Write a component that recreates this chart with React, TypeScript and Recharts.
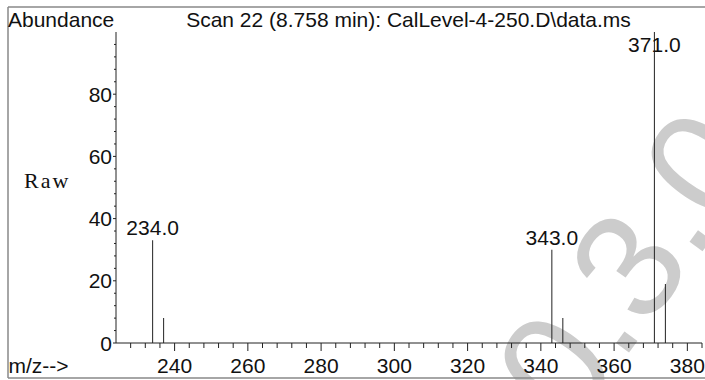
import React from 'react';
import { Bar, BarChart, LabelList, XAxis, YAxis } from 'recharts';

const mz = [234, 237, 343, 346, 371, 374];
const abundance = [33, 8, 30, 8, 100, 19];
const peakLabels = ['234.0', '', '343.0', '', '371.0', ''];
const xMajorTicks = [240, 260, 280, 300, 320, 340, 360, 380];
const yMajorTicks = [0, 20, 40, 60, 80];

const data = mz.map((m, i) => ({ mz: m, abundance: abundance[i], label: peakLabels[i] }));

// minor ticks every 4 units on both axes
const xTicks: number[] = [];
for (let v = 228; v <= 384; v += 4) xTicks.push(v);
const yTicks: number[] = [];
for (let v = 0; v <= 96; v += 4) yTicks.push(v);

const FONT = '"Liberation Sans", Arial, Helvetica, sans-serif';
const INK = '#111';
const FS = 21;

const XTick = (props: any) => {
    const { x, y, payload } = props;
    const major = xMajorTicks.includes(payload.value);
    return (
        <g>
            <line x1={x} x2={x} y1={y} y2={y + (major ? 8 : 5)} stroke="#222" />
            {major && (
                <text x={x} y={y + 30} textAnchor="middle" fontFamily={FONT} fontSize={FS} fill={INK}>
                    {payload.value}
                </text>
            )}
        </g>
    );
};

const YTick = (props: any) => {
    const { x, y, payload } = props;
    const major = yMajorTicks.includes(payload.value);
    return (
        <g>
            <line x1={x - (major ? 3 : 2)} x2={x} y1={y} y2={y} stroke="#222" />
            {major && (
                <text x={x - 4} y={y + 7.5} textAnchor="end" fontFamily={FONT} fontSize={FS} fill={INK}>
                    {payload.value}
                </text>
            )}
        </g>
    );
};

const PeakLabel = (props: any) => {
    const { x, y, width, value } = props;
    if (!value) return null;
    const ty = Math.max(y - 5, 52);
    return (
        <text x={x + width / 2} y={ty} textAnchor="middle" fontFamily={FONT} fontSize={FS} fill={INK}>
            {value}
        </text>
    );
};

const App: React.FC = () => {
    return (
        <div style={{ position: 'absolute', left: 0, top: 0, width: 705, height: 380, background: '#fff' }}>
            <svg width={705} height={380} style={{ position: 'absolute', left: 0, top: 0 }}>
                {/* watermark */}
                <text
                    x={670}
                    y={296}
                    transform="rotate(-54 670 296)"
                    textAnchor="middle"
                    fontFamily={FONT}
                    fontSize={150}
                    fill="#cccccc"
                >
                    0.3.0
                </text>
                <line x1={8} y1={7} x2={705} y2={7} stroke="#888" strokeWidth={1.5} />
                <line x1={8} y1={7} x2={8} y2={378} stroke="#888" strokeWidth={1.5} />
                <line x1={8} y1={378} x2={705} y2={378} stroke="#888" strokeWidth={1.5} />
                <text x={8} y={27} fontFamily={FONT} fontSize={FS} fill={INK}>Abundance</text>
                <text x={408.5} y={27} textAnchor="middle" fontFamily={FONT} fontSize={FS} fill={INK}>
                    Scan 22 (8.758 min): CalLevel-4-250.D\data.ms
                </text>
                <text x={24} y={188} fontFamily='"Liberation Serif", "Times New Roman", serif' fontSize={22} letterSpacing={2} fill={INK}>
                    Raw
                </text>
                <text x={8.5} y={373} fontFamily={FONT} fontSize={FS} fill={INK}>m/z--&gt;</text>
            </svg>
            <div style={{ position: 'absolute', left: 0, top: 0 }}>
                <BarChart width={705} height={380} data={data} margin={{ top: 32, right: 3, bottom: 7, left: 56 }}>
                    <XAxis
                        type="number"
                        dataKey="mz"
                        domain={[224, 384]}
                        ticks={xTicks}
                        interval={0}
                        allowDataOverflow
                        tickLine={false}
                        tickSize={0}
                        tickMargin={0}
                        height={30}
                        axisLine={{ stroke: '#222' }}
                        tick={<XTick />}
                    />
                    <YAxis
                        type="number"
                        domain={[0, 100]}
                        ticks={yTicks}
                        interval={0}
                        allowDataOverflow
                        tickLine={false}
                        tickSize={0}
                        tickMargin={0}
                        width={60}
                        axisLine={{ stroke: '#222' }}
                        tick={<YTick />}
                    />
                    <Bar dataKey="abundance" fill="#222" barSize={1} isAnimationActive={false}>
                        <LabelList dataKey="label" content={<PeakLabel />} />
                    </Bar>
                </BarChart>
            </div>
        </div>
    );
};

export default App;
